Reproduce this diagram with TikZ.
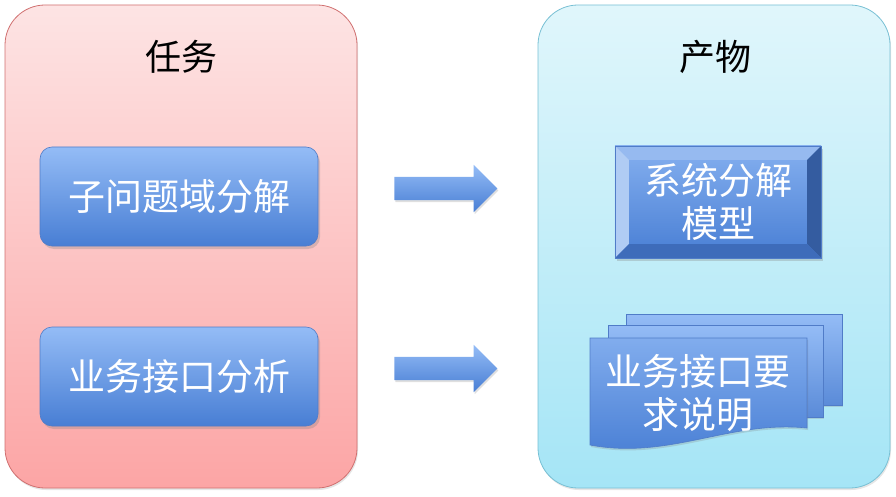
\documentclass[tikz,border=0pt]{standalone}
\usepackage{fontspec}
\setmainfont{Noto Sans CJK SC}
\usepackage{tikz}
\usetikzlibrary{shapes.arrows, shadows, calc, positioning}
\definecolor{pinktop}{RGB}{253,228,228}
\definecolor{pinkbot}{RGB}{252,165,165}
\definecolor{pinkline}{RGB}{208,112,112}
\definecolor{cyantop}{RGB}{224,246,251}
\definecolor{cyanbot}{RGB}{165,229,246}
\definecolor{cyanline}{RGB}{120,192,212}
\definecolor{bluetop}{RGB}{148,188,246}
\definecolor{bluebot}{RGB}{72,126,212}
\definecolor{blueline}{RGB}{80,124,200}
\definecolor{bevellight}{RGB}{176,204,244}
\definecolor{beveltop}{RGB}{150,186,240}
\definecolor{beveldark}{RGB}{52,92,160}
\definecolor{bevelbot}{RGB}{62,108,186}
\tikzstyle{panelbox} = [rectangle, rounded corners=40pt,
line width=0.8pt,
minimum width=352pt, minimum height=483pt,
drop shadow={opacity=0.2, shadow xshift=1pt, shadow yshift=-2pt}]
\tikzstyle{titletext} = [font=\fontsize{36}{40}\selectfont, text=black]
\tikzstyle{whitetext} = [text=white, align=center,
font=\fontsize{37}{43}\selectfont]
\tikzstyle{taskbox} = [rectangle, rounded corners=12pt,
top color=bluetop, bottom color=bluebot, draw=blueline, line width=0.6pt,
minimum width=278pt, minimum height=99pt,
drop shadow={opacity=0.3, shadow xshift=2pt, shadow yshift=-3pt}]
\tikzstyle{blockarrow} = [single arrow, single arrow head extend=12pt,
inner xsep=0pt, inner ysep=11.5pt, text height=0pt, text depth=0pt,
minimum height=103pt, top color=bluetop, bottom color=bluebot,
drop shadow={opacity=0.25, shadow xshift=1pt, shadow yshift=-2pt}]
\tikzstyle{sheet} = [rectangle, top color=bluetop, bottom color=bluebot!90,
draw=blueline, line width=0.6pt,
drop shadow={opacity=0.25, shadow xshift=1pt, shadow yshift=-2pt}]

\begin{document}
\begin{tikzpicture}[x=1pt, y=-1pt]
	\useasboundingbox (0,0) rectangle (896,497);
	%% Panels
	\node[panelbox, top color=pinktop, bottom color=pinkbot, draw=pinkline] (task) at (181,246.5) {};
	\node[panelbox, top color=cyantop, bottom color=cyanbot, draw=cyanline] (prod) at (714,246.5) {};
	\node[titletext] (taskTitle) at (181,57) {任务};
	\node[titletext] (prodTitle) at (715,57) {产物};
	%% Tasks
	\node[taskbox, whitetext] (split) at (179,196.5) {子问题域分解};
	\node[taskbox, whitetext] (iface) at (179,376.5) {业务接口分析};
	%% Arrows
	\node[blockarrow] (arrowA) at (440,188.5) {};
	\node[blockarrow] (arrowB) at (440,368.5) {};
	%% Bevelled model box
	\node[rectangle, top color=bluetop!80!bluebot, bottom color=bluebot,
	minimum width=206pt, minimum height=112pt,
	drop shadow={opacity=0.3, shadow xshift=2pt, shadow yshift=-3pt}] (model) at (718,202) {};
	\coordinate (iNW) at ($(model.north west)+(14,14)$);
	\coordinate (iNE) at ($(model.north east)+(-14,14)$);
	\coordinate (iSW) at ($(model.south west)+(14,-14)$);
	\coordinate (iSE) at ($(model.south east)+(-14,-14)$);
	\fill[beveltop] (model.north west) -- (model.north east) -- (iNE) -- (iNW) -- cycle;
	\fill[bevellight] (model.north west) -- (iNW) -- (iSW) -- (model.south west) -- cycle;
	\fill[beveldark] (model.north east) -- (model.south east) -- (iSE) -- (iNE) -- cycle;
	\fill[bevelbot] (model.south west) -- (iSW) -- (iSE) -- (model.south east) -- cycle;
	\draw[blueline, line width=0.4pt] (model.north west) rectangle (model.south east);
	\node[whitetext] (modelText) at (model) {系统分解\\模型};
	%% Stack of sheets
	\node[sheet, minimum width=216pt, minimum height=91pt] (sheetC) at (734,359.5) {};
	\node[sheet, minimum width=215pt, minimum height=92pt] (sheetB) at (715.5,371) {};
	\coordinate (frontNW) at (590,338);
	\path[top color=bluetop!75!bluebot, bottom color=bluebot, draw=blueline, line width=0.6pt,
	drop shadow={opacity=0.25, shadow xshift=1pt, shadow yshift=-2pt}]
	(frontNW) -- ++(217,0) -- ++(0,90) .. controls (730,420) and (670,460) .. (590,445) -- cycle;
	\node[whitetext] (spec) at (698,393) {业务接口要\\求说明};
\end{tikzpicture}
\end{document}
